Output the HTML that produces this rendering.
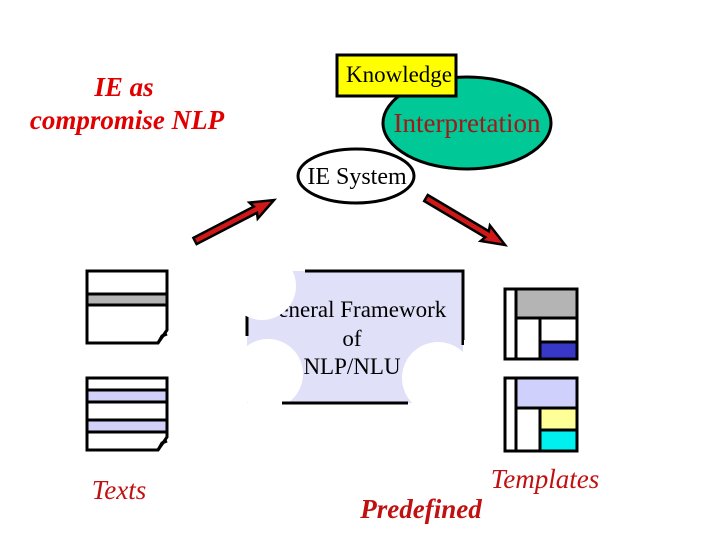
<!DOCTYPE html>
<html><head><meta charset="utf-8"><style>
html,body{margin:0;padding:0;background:#fff;}
svg{display:block;}
</style></head><body>
<svg width="720" height="540" viewBox="0 0 720 540" xmlns="http://www.w3.org/2000/svg">
<rect width="720" height="540" fill="#fff"/>
<g font-family="Liberation Serif, serif">
<text x="124" y="96" font-size="27" font-weight="bold" font-style="italic" fill="#e00000" text-anchor="middle">IE as</text>
<text x="127" y="129" font-size="27" font-weight="bold" font-style="italic" fill="#e00000" text-anchor="middle">compromise NLP</text>

<ellipse cx="467" cy="123" rx="84" ry="46" fill="#00c896" stroke="#000" stroke-width="3"/>
<text x="467" y="132" font-size="27" fill="#a01818" text-anchor="middle">Interpretation</text>
<rect x="337" y="55" width="119" height="41" fill="#ffff00" stroke="#000" stroke-width="3"/>
<text x="399" y="82" font-size="23" fill="#000" text-anchor="middle">Knowledge</text>

<ellipse cx="356" cy="176" rx="58" ry="27" fill="#fff" stroke="#000" stroke-width="3"/>
<text x="357" y="184" font-size="24" fill="#000" text-anchor="middle">IE System</text>

<g transform="translate(195,241) rotate(-27.4)">
<polygon points="0,-3.5 68,-3.5 66,-9 89,0 66,9 68,3.5 0,3.5" fill="#d01818" stroke="#000" stroke-width="2.5"/>
</g>
<g transform="translate(426,198) rotate(30.7)">
<polygon points="0,-3.5 71,-3.5 69,-9 92,0 69,9 71,3.5 0,3.5" fill="#d01818" stroke="#000" stroke-width="2.5"/>
</g>

<!-- framework -->
<rect x="247" y="271" width="216" height="132" fill="#e0e0f8"/>
<path d="M305 271 H463 V345 M247 312 V336 M282 403 H408" fill="none" stroke="#000" stroke-width="3"/>
<text x="354" y="317" font-size="23" text-anchor="middle" fill="#000">General Framework</text>
<text x="352" y="346" font-size="23" text-anchor="middle" fill="#000">of</text>
<text x="352" y="374" font-size="23" text-anchor="middle" fill="#000">NLP/NLU</text>
<circle cx="262" cy="286" r="34" fill="#fff"/>
<rect x="240" y="260" width="65" height="10" fill="#fff"/>
<circle cx="268" cy="374" r="35" fill="#fff"/>
<circle cx="438" cy="378" r="36" fill="#fff"/>
<rect x="240" y="404" width="240" height="20" fill="#fff"/>
<rect x="464" y="340" width="20" height="80" fill="#fff"/>
<path d="M282 403 H408" stroke="#000" stroke-width="3"/>

<!-- text docs -->
<g stroke="#000" stroke-width="3" fill="none">
<rect x="87" y="294" width="80" height="11" fill="#b4b4b4" stroke="none"/>
<path d="M87 343 V271 H167 V330 L158 343 Z M87 294 H167 M87 305 H167"/>
<path d="M158 343 L162 336 L167 334" fill="#000"/>
<rect x="87" y="390" width="80" height="12" fill="#d0d0f8" stroke="none"/>
<rect x="87" y="420" width="80" height="12" fill="#d0d0f8" stroke="none"/>
<path d="M87 450 V378 H167 V437 L158 450 Z M87 390 H167 M87 402 H167 M87 420 H167 M87 432 H167"/>
<path d="M158 450 L162 443 L167 441" fill="#000"/>
</g>

<!-- templates -->
<g stroke="#000" stroke-width="3">
<rect x="505" y="289" width="72" height="70" fill="#fff"/>
<rect x="516" y="289" width="61" height="29" fill="#b4b4b4"/>
<line x1="516" y1="289" x2="516" y2="359"/>
<line x1="540" y1="318" x2="540" y2="359"/>
<rect x="540" y="342" width="37" height="17" fill="#3838c8"/>
<rect x="505" y="378" width="72" height="73" fill="#fff"/>
<rect x="516" y="378" width="61" height="30" fill="#d0d0fc"/>
<line x1="516" y1="378" x2="516" y2="451"/>
<line x1="540" y1="408" x2="540" y2="451"/>
<rect x="540" y="408" width="37" height="22" fill="#ffff98"/>
<rect x="540" y="430" width="37" height="21" fill="#00f0f0"/>
</g>

<text x="119" y="499" font-size="27" font-style="italic" fill="#c01010" text-anchor="middle">Texts</text>
<text x="545" y="488" font-size="27" font-style="italic" fill="#c01010" text-anchor="middle">Templates</text>
<text x="421" y="518" font-size="27" font-weight="bold" font-style="italic" fill="#c01010" text-anchor="middle">Predefined</text>
</g>
</svg>
</body></html>
